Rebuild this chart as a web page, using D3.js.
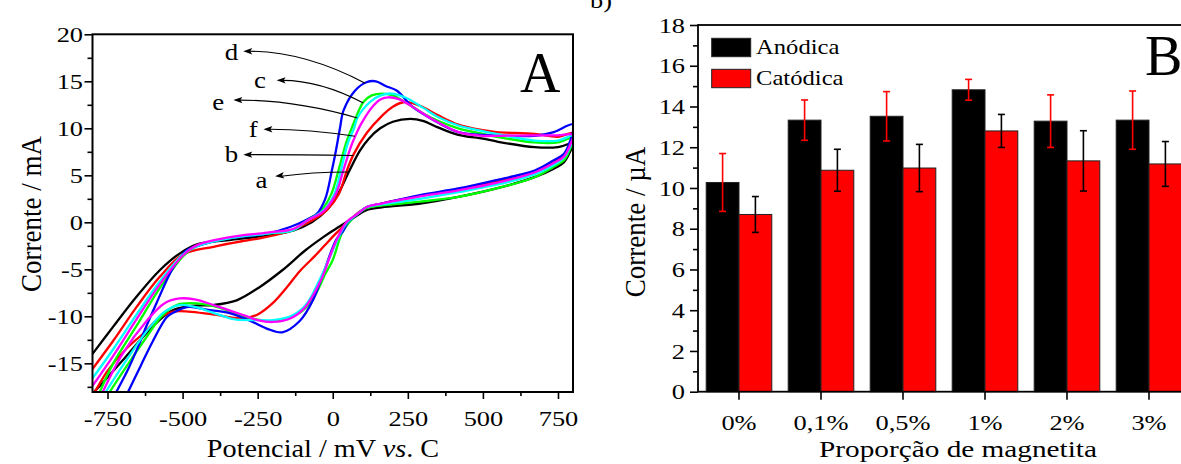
<!DOCTYPE html>
<html>
<head>
<meta charset="utf-8">
<script src="https://cdn.jsdelivr.net/npm/d3@7"></script>
<style>
  body { margin: 0; background: #fff; }
  svg { display: block; }
  text { font-family: "Liberation Serif", "Times New Roman", serif; fill: #000; }
</style>
</head>
<body>
<svg id="chart" width="1181" height="464"></svg>
<script>
/*
Panel A: cyclic voltammograms, [potential mV, current mA]
Forward sweep (upper branch) and reverse sweep (lower branch)
*/
var cvA_fwd = [[-800,-14.0],[-731,-11.1],[-653,-7.9],[-576,-5.1],[-509,-3.3],[-447,-2.3],[-346,-1.9],[-219,-1.4],[-130,-0.85],[-70,0.0],[-20,1.3],[24,3.4],[54,5.4],[90,7.6],[120,8.9],[158,10.0],[200,10.7],[258,11.0],[300,10.8],[350,10.1],[418,9.3],[500,8.9],[545,8.6],[672,8.0],[750,8.0],[800,8.4]];
var cvA_rev = [[800,8.4],[790,7.5],[770,6.4],[736,5.7],[672,4.8],[545,3.6],[418,2.7],[291,2.0],[163,1.6],[112,1.3],[75,0.6],[40,-0.1],[0,-0.9],[-28,-1.5],[-92,-3.0],[-168,-5.1],[-244,-6.9],[-320,-8.3],[-397,-8.8],[-473,-8.9],[-536,-9.4],[-600,-11.1],[-689,-14.3],[-778,-17.5],[-800,-18.2]];

var cvB_fwd = [[-800,-15.6],[-731,-12.6],[-653,-9.0],[-576,-5.8],[-498,-3.4],[-397,-2.6],[-300,-2.0],[-244,-1.7],[-150,-1.0],[-80,0.0],[-20,1.3],[20,3.0],[47,5.5],[69,7.2],[113,9.5],[163,11.3],[200,12.3],[240,12.8],[290,12.4],[350,11.4],[418,10.4],[500,9.8],[545,9.6],[672,9.4],[750,9.1],[800,9.5]];
var cvB_rev = [[800,9.5],[790,8.2],[770,7.1],[736,6.4],[672,5.3],[545,4.3],[418,3.5],[291,2.8],[163,2.0],[112,1.6],[80,0.9],[40,-0.3],[10,-1.2],[-28,-2.5],[-60,-3.6],[-110,-5.2],[-150,-6.8],[-200,-8.6],[-250,-9.8],[-300,-10.2],[-400,-9.8],[-480,-9.5],[-530,-9.5],[-575,-10.1],[-630,-11.8],[-689,-13.5],[-750,-15.8],[-790,-17.9],[-800,-18.3]];

var cvC_fwd = [[-775,-18.0],[-731,-15.0],[-653,-11.0],[-576,-7.0],[-498,-3.6],[-450,-2.5],[-346,-1.7],[-219,-1.2],[-130,-0.8],[-90,0.2],[-40,1.2],[-5,3.0],[19,5.5],[45,8.5],[63,10.0],[102,12.8],[130,13.5],[165,13.7],[200,13.5],[250,12.6],[300,11.6],[350,10.8],[418,10.0],[500,9.4],[545,9.1],[672,8.5],[750,8.5],[800,9.0]];
var cvC_rev = [[800,9.0],[790,7.8],[770,6.6],[736,5.9],[672,4.8],[545,3.6],[418,2.7],[291,2.2],[163,1.8],[112,1.5],[87,1.0],[55,0.0],[30,-1.2],[0,-4.0],[-25,-5.5],[-60,-7.8],[-100,-9.4],[-150,-10.2],[-200,-10.5],[-260,-10.3],[-330,-9.6],[-400,-8.9],[-470,-8.6],[-520,-8.8],[-570,-10.0],[-620,-12.2],[-680,-15.0],[-742,-18.0]];

var cvD_fwd = [[-720,-18.0],[-681,-15.6],[-653,-13.6],[-620,-11.0],[-587,-8.6],[-531,-4.8],[-487,-3.0],[-450,-2.5],[-346,-1.7],[-219,-1.2],[-142,-0.5],[-92,0.2],[-53,0.9],[-25,2.5],[-3,5.5],[11,7.7],[24,10.0],[36,11.9],[74,14.0],[112,14.9],[144,15.0],[176,14.5],[214,14.0],[265,12.3],[329,11.0],[418,9.6],[545,9.25],[672,9.2],[736,9.6],[800,10.4]];
var cvD_rev = [[800,10.4],[790,8.6],[770,7.3],[736,6.6],[672,5.5],[545,4.5],[418,3.6],[291,2.9],[163,2.0],[112,1.6],[87,1.0],[50,0.0],[36,-0.85],[11,-1.9],[-28,-5.1],[-66,-8.3],[-110,-10.5],[-168,-11.7],[-220,-11.3],[-280,-10.4],[-350,-9.6],[-420,-9.3],[-480,-9.0],[-530,-9.6],[-553,-10.1],[-600,-12.7],[-640,-15.3],[-681,-18.0]];

var cvE_fwd = [[-800,-16.6],[-731,-13.5],[-653,-9.8],[-576,-6.3],[-498,-3.4],[-450,-2.5],[-346,-1.7],[-219,-1.2],[-130,-0.8],[-85,0.2],[-30,1.3],[5,3.0],[27,5.5],[50,8.4],[71,10.0],[82,11.1],[124,12.8],[160,13.5],[195,13.7],[240,13.3],[300,12.2],[350,11.2],[418,10.3],[500,9.7],[545,9.4],[672,8.7],[750,8.7],[800,9.2]];
var cvE_rev = [[800,9.2],[790,8.0],[770,6.9],[736,6.1],[672,5.1],[545,4.0],[418,3.2],[291,2.5],[163,1.9],[112,1.6],[87,1.0],[48,0.0],[25,-1.2],[0,-3.0],[-45,-6.2],[-90,-8.8],[-140,-10.0],[-200,-10.4],[-260,-10.4],[-330,-10.3],[-400,-9.6],[-460,-9.0],[-510,-8.8],[-560,-9.5],[-620,-11.6],[-690,-14.8],[-755,-18.0]];

var cvF_fwd = [[-800,-17.4],[-731,-14.2],[-653,-10.3],[-576,-6.6],[-498,-3.5],[-450,-2.4],[-346,-1.6],[-219,-1.1],[-130,-0.7],[-85,0.2],[-30,1.2],[10,3.0],[35,5.5],[60,8.0],[74,9.1],[95,10.5],[135,12.4],[160,13.1],[185,13.3],[220,13.1],[270,12.2],[330,11.0],[418,9.6],[500,9.2],[545,9.2],[672,9.25],[750,9.25],[800,9.3]];
var cvF_rev = [[800,9.3],[790,8.2],[770,7.0],[736,6.3],[672,5.3],[545,4.2],[418,3.4],[291,2.75],[163,2.0],[112,1.6],[87,1.0],[45,0.0],[23,-1.2],[-2,-3.0],[-40,-6.2],[-91,-9.0],[-140,-10.2],[-200,-10.6],[-250,-10.4],[-295,-9.9],[-397,-8.8],[-460,-8.2],[-510,-8.1],[-560,-8.6],[-620,-10.5],[-700,-14.0],[-765,-18.0]];

var cvKeys = ["a", "b", "c", "d", "e", "f"];
var cvColors = ["#000000", "#ff0000", "#00ff00", "#0000ff", "#00ffff", "#ff00ff"];

// Curve labels: text position, arrow tip (near text), arrow end (on curve), in data units
var labelPos = [[-237,4.5],[-337,7.3],[-242,15.1],[-337,18.1],[-381,12.8],[-265,9.9]];
var arrowTip = [[-192,4.9],[-298,7.2],[-187,15.1],[-298,18.2],[-331,13.0],[-231,9.9]];
var arrowEnd = [[52,5.35],[69,7.1],[102,12.7],[108,14.8],[82,11.1],[74,9.15]];

var xTicksA = [-750, -500, -250, 0, 250, 500, 750];
var xMinorA = [-625, -375, -125, 125, 375, 625];
var yTicksA = [-15, -10, -5, 0, 5, 10, 15, 20];
var yMinorA = [-17.5, -12.5, -7.5, -2.5, 2.5, 7.5, 12.5, 17.5];

/*
Panel B: peak currents by magnetite proportion
*/
var categories = ["0%", "0,1%", "0,5%", "1%", "2%", "3%"];
var series = ["Anódica", "Catódica"];
var anodica = [10.27, 13.33, 13.52, 14.82, 13.28, 13.33];
var anodicaErr = [1.42, 0.99, 1.21, 0.51, 1.29, 1.43];
var catodica = [8.70, 10.87, 10.98, 12.80, 11.33, 11.18];
var catodicaErr = [0.88, 1.03, 1.16, 0.81, 1.48, 1.10];
var yTicksB = [0, 2, 4, 6, 8, 10, 12, 14, 16, 18];
var yMinorB = [1, 3, 5, 7, 9, 11, 13, 15, 17];

// Horizontal stretch of the reference lettering
var SX = 1.2;

var svg = d3.select("#chart");

function translate(x, y) {
  return "translate(" + x + "," + y + ")";
}

// Text drawn at (x, y) and stretched horizontally
function addText(parent, x, y, txt, size, anchor, sx) {
  return parent.append("text")
    .attr("transform", translate(x, y) + " scale(" + (sx || 1) + ",1)")
    .attr("text-anchor", anchor || "start")
    .style("font-size", size + "px")
    .text(txt);
}

// Vertical title, glyphs thickened like the reference
function addVTitle(parent, x, y, txt, size) {
  return parent.append("text")
    .attr("transform", translate(x, y) + " rotate(-90) scale(1,1.1)")
    .attr("text-anchor", "middle")
    .style("font-size", size + "px")
    .text(txt);
}

// Axis labels styled like the reference
function styleAxis(g, size, sx) {
  g.attr("font-family", null).attr("font-size", null);
  g.select(".domain").remove();
  g.selectAll(".tick line").attr("stroke", "#000").attr("stroke-width", 1.6);
  g.selectAll(".tick text")
    .style("font-size", size + "px")
    .attr("fill", "#000")
    .each(function() {
      var t = d3.select(this);
      var x = +t.attr("x") || 0;
      t.attr("x", x / sx).attr("transform", "scale(" + sx + ",1)");
    });
}

// ---------------- Panel A ----------------
var xA = d3.scaleLinear().domain([-800, 800]).range([92.5, 573]);
var yA = d3.scaleLinear().domain([-18.05, 20]).range([392, 34.3]);

var gA = svg.append("g").attr("class", "panelA");

gA.append("clipPath").attr("id", "clipA")
  .append("rect")
  .attr("x", xA.range()[0]).attr("y", yA.range()[1])
  .attr("width", xA.range()[1] - xA.range()[0])
  .attr("height", yA.range()[0] - yA.range()[1]);

var cvLine = d3.line()
  .x(function(d) { return xA(d[0]); })
  .y(function(d) { return yA(d[1]); })
  .curve(d3.curveCatmullRom.alpha(0.5));

var cvData = [
  cvA_fwd.concat(cvA_rev.slice(1)),
  cvB_fwd.concat(cvB_rev.slice(1)),
  cvC_fwd.concat(cvC_rev.slice(1)),
  cvD_fwd.concat(cvD_rev.slice(1)),
  cvE_fwd.concat(cvE_rev.slice(1)),
  cvF_fwd.concat(cvF_rev.slice(1))
];

gA.append("g")
  .attr("clip-path", "url(#clipA)")
  .selectAll("path.cv")
  .data(cvData)
  .enter().append("path")
    .attr("class", function(d, i) { return "cv cv-" + cvKeys[i]; })
    .attr("d", cvLine)
    .style("fill", "none")
    .style("stroke", function(d, i) { return cvColors[i]; })
    .style("stroke-width", 2.3)
    .style("stroke-linejoin", "round");

// Axes
var axA_x = gA.append("g").attr("transform", translate(0, yA.range()[0]))
  .call(d3.axisBottom(xA).tickValues(xTicksA).tickSize(7).tickSizeOuter(0)
    .tickFormat(function(d) { return String(d); }));
styleAxis(axA_x, 22, SX);
axA_x.selectAll(".tick text").attr("y", 34).attr("dy", 0);

var axA_xm = gA.append("g").attr("transform", translate(0, yA.range()[0]))
  .call(d3.axisBottom(xA).tickValues(xMinorA).tickSize(4).tickSizeOuter(0).tickFormat(""));
styleAxis(axA_xm, 22, SX);

var axA_y = gA.append("g").attr("transform", translate(xA.range()[0], 0))
  .call(d3.axisLeft(yA).tickValues(yTicksA).tickSize(8).tickPadding(1.5).tickSizeOuter(0)
    .tickFormat(function(d) { return String(d); }));
styleAxis(axA_y, 22, SX);

var axA_ym = gA.append("g").attr("transform", translate(xA.range()[0], 0))
  .call(d3.axisLeft(yA).tickValues(yMinorA).tickSize(5).tickSizeOuter(0).tickFormat(""));
styleAxis(axA_ym, 22, SX);

// Frame
gA.append("rect")
  .attr("x", xA.range()[0]).attr("y", yA.range()[1])
  .attr("width", xA.range()[1] - xA.range()[0])
  .attr("height", yA.range()[0] - yA.range()[1])
  .style("fill", "none").style("stroke", "#000").style("stroke-width", 2);

// Curve labels with arrows
var arrows = gA.append("g").attr("class", "arrows");
cvKeys.forEach(function(k, i) {
  var tx = xA(arrowTip[i][0]), ty = yA(arrowTip[i][1]);
  var ex = xA(arrowEnd[i][0]), ey = yA(arrowEnd[i][1]);
  // control point: leave the tip horizontally, except "a" that meets the curve horizontally
  var cx = tx + 0.5 * (ex - tx);
  var cy = (k === "a") ? ey : ty;
  arrows.append("path")
    .attr("d", "M" + ex + "," + ey + " Q" + cx + "," + cy + " " + (tx + 6) + "," + ty)
    .style("fill", "none").style("stroke", "#000").style("stroke-width", 1.1);
  var ang = Math.atan2(ty - cy, tx - cx) * 180 / Math.PI;
  arrows.append("polygon")
    .attr("points", "0,0 -9,-3.2 -7,0 -9,3.2")
    .attr("transform", translate(tx, ty) + " rotate(" + ang + ")")
    .style("fill", "#000");
  addText(arrows, xA(labelPos[i][0]), yA(labelPos[i][1]) + 8, k, 24, "middle", 1.12);
});

// Panel letter and titles
addText(gA, 520, 92, "A", 56, "start", 1);

var titleA = gA.append("text")
  .attr("transform", translate(323, 457) + " scale(1.13,1)")
  .attr("text-anchor", "middle")
  .style("font-size", "25px");
titleA.append("tspan").text("Potencial / mV ");
titleA.append("tspan").style("font-style", "italic").text("vs");
titleA.append("tspan").text(". C");

addVTitle(gA, 41, 214, "Corrente / mA", 27);

// ---------------- Panel B ----------------
var xB = d3.scaleBand().domain(categories).range([698, 1190]).paddingInner(0.2).paddingOuter(0.1);
var xBs = d3.scaleBand().domain(series).range([0, xB.bandwidth()]);
var yB = d3.scaleLinear().domain([0, 18]).range([391.7, 25]);

var gB = svg.append("g").attr("class", "panelB");

var barData = [];
categories.forEach(function(c, i) {
  barData.push({ cat: c, s: series[0], v: anodica[i], e: anodicaErr[i], fill: "#000000", err: "#ff0000" });
  barData.push({ cat: c, s: series[1], v: catodica[i], e: catodicaErr[i], fill: "#ff0000", err: "#000000" });
});

var barG = gB.append("g").attr("class", "bars");
barG.selectAll("rect.bar")
  .data(barData)
  .enter().append("rect")
    .attr("class", "bar")
    .attr("x", function(d) { return xB(d.cat) + xBs(d.s); })
    .attr("y", function(d) { return yB(d.v); })
    .attr("width", xBs.bandwidth())
    .attr("height", function(d) { return yB(0) - yB(d.v); })
    .style("fill", function(d) { return d.fill; })
    .style("stroke", "#222")
    .style("stroke-width", 1);

// Error bars
var errG = gB.append("g").attr("class", "errors");
barData.forEach(function(d) {
  var cx = xB(d.cat) + xBs(d.s) + xBs.bandwidth() / 2;
  var y1 = yB(d.v + d.e), y0 = yB(d.v - d.e);
  errG.append("line").attr("x1", cx).attr("x2", cx).attr("y1", y1).attr("y2", y0)
    .style("stroke", d.err).style("stroke-width", 1.6);
  [y0, y1].forEach(function(yy) {
    errG.append("line").attr("x1", cx - 3.5).attr("x2", cx + 3.5).attr("y1", yy).attr("y2", yy)
      .style("stroke", d.err).style("stroke-width", 1.6);
  });
});

// Axes
var axB_x = gB.append("g").attr("transform", translate(0, yB.range()[0]))
  .call(d3.axisBottom(xB).tickSize(8).tickSizeOuter(0));
styleAxis(axB_x, 22, SX);
axB_x.selectAll(".tick text").attr("y", 38).attr("dy", 0);

var axB_y = gB.append("g").attr("transform", translate(698, 0))
  .call(d3.axisLeft(yB).tickValues(yTicksB).tickSize(8).tickPadding(5).tickSizeOuter(0)
    .tickFormat(function(d) { return String(d); }));
styleAxis(axB_y, 22, SX);

var axB_ym = gB.append("g").attr("transform", translate(698, 0))
  .call(d3.axisLeft(yB).tickValues(yMinorB).tickSize(5).tickSizeOuter(0).tickFormat(""));
styleAxis(axB_ym, 22, SX);

// Frame (right side runs past the picture edge)
gB.append("rect")
  .attr("x", 698).attr("y", yB.range()[1])
  .attr("width", xB.range()[1] - 698)
  .attr("height", yB.range()[0] - yB.range()[1])
  .style("fill", "none").style("stroke", "#000").style("stroke-width", 1.8);

// Legend
var legend = gB.append("g").attr("class", "legend");
series.forEach(function(s, i) {
  legend.append("rect")
    .attr("x", 711.7).attr("y", 38.3 + i * 31)
    .attr("width", 39).attr("height", 18.4)
    .style("fill", i === 0 ? "#000000" : "#ff0000")
    .style("stroke", "#222").style("stroke-width", 1);
  addText(legend, 756, 54 + i * 31, s, 22, "start", 1.12);
});

addText(gB, 1145, 75, "B", 56, "start", 1);

addText(gB, 958, 457, "Proporção de magnetita", 24, "middle", 1.22);

addVTitle(gB, 645, 222, "Corrente / µA", 27);

// Caption at the top edge, mostly outside the picture as in the reference
addText(svg, 612, 8, "b)", 22, "end", SX);
</script>
</body>
</html>
